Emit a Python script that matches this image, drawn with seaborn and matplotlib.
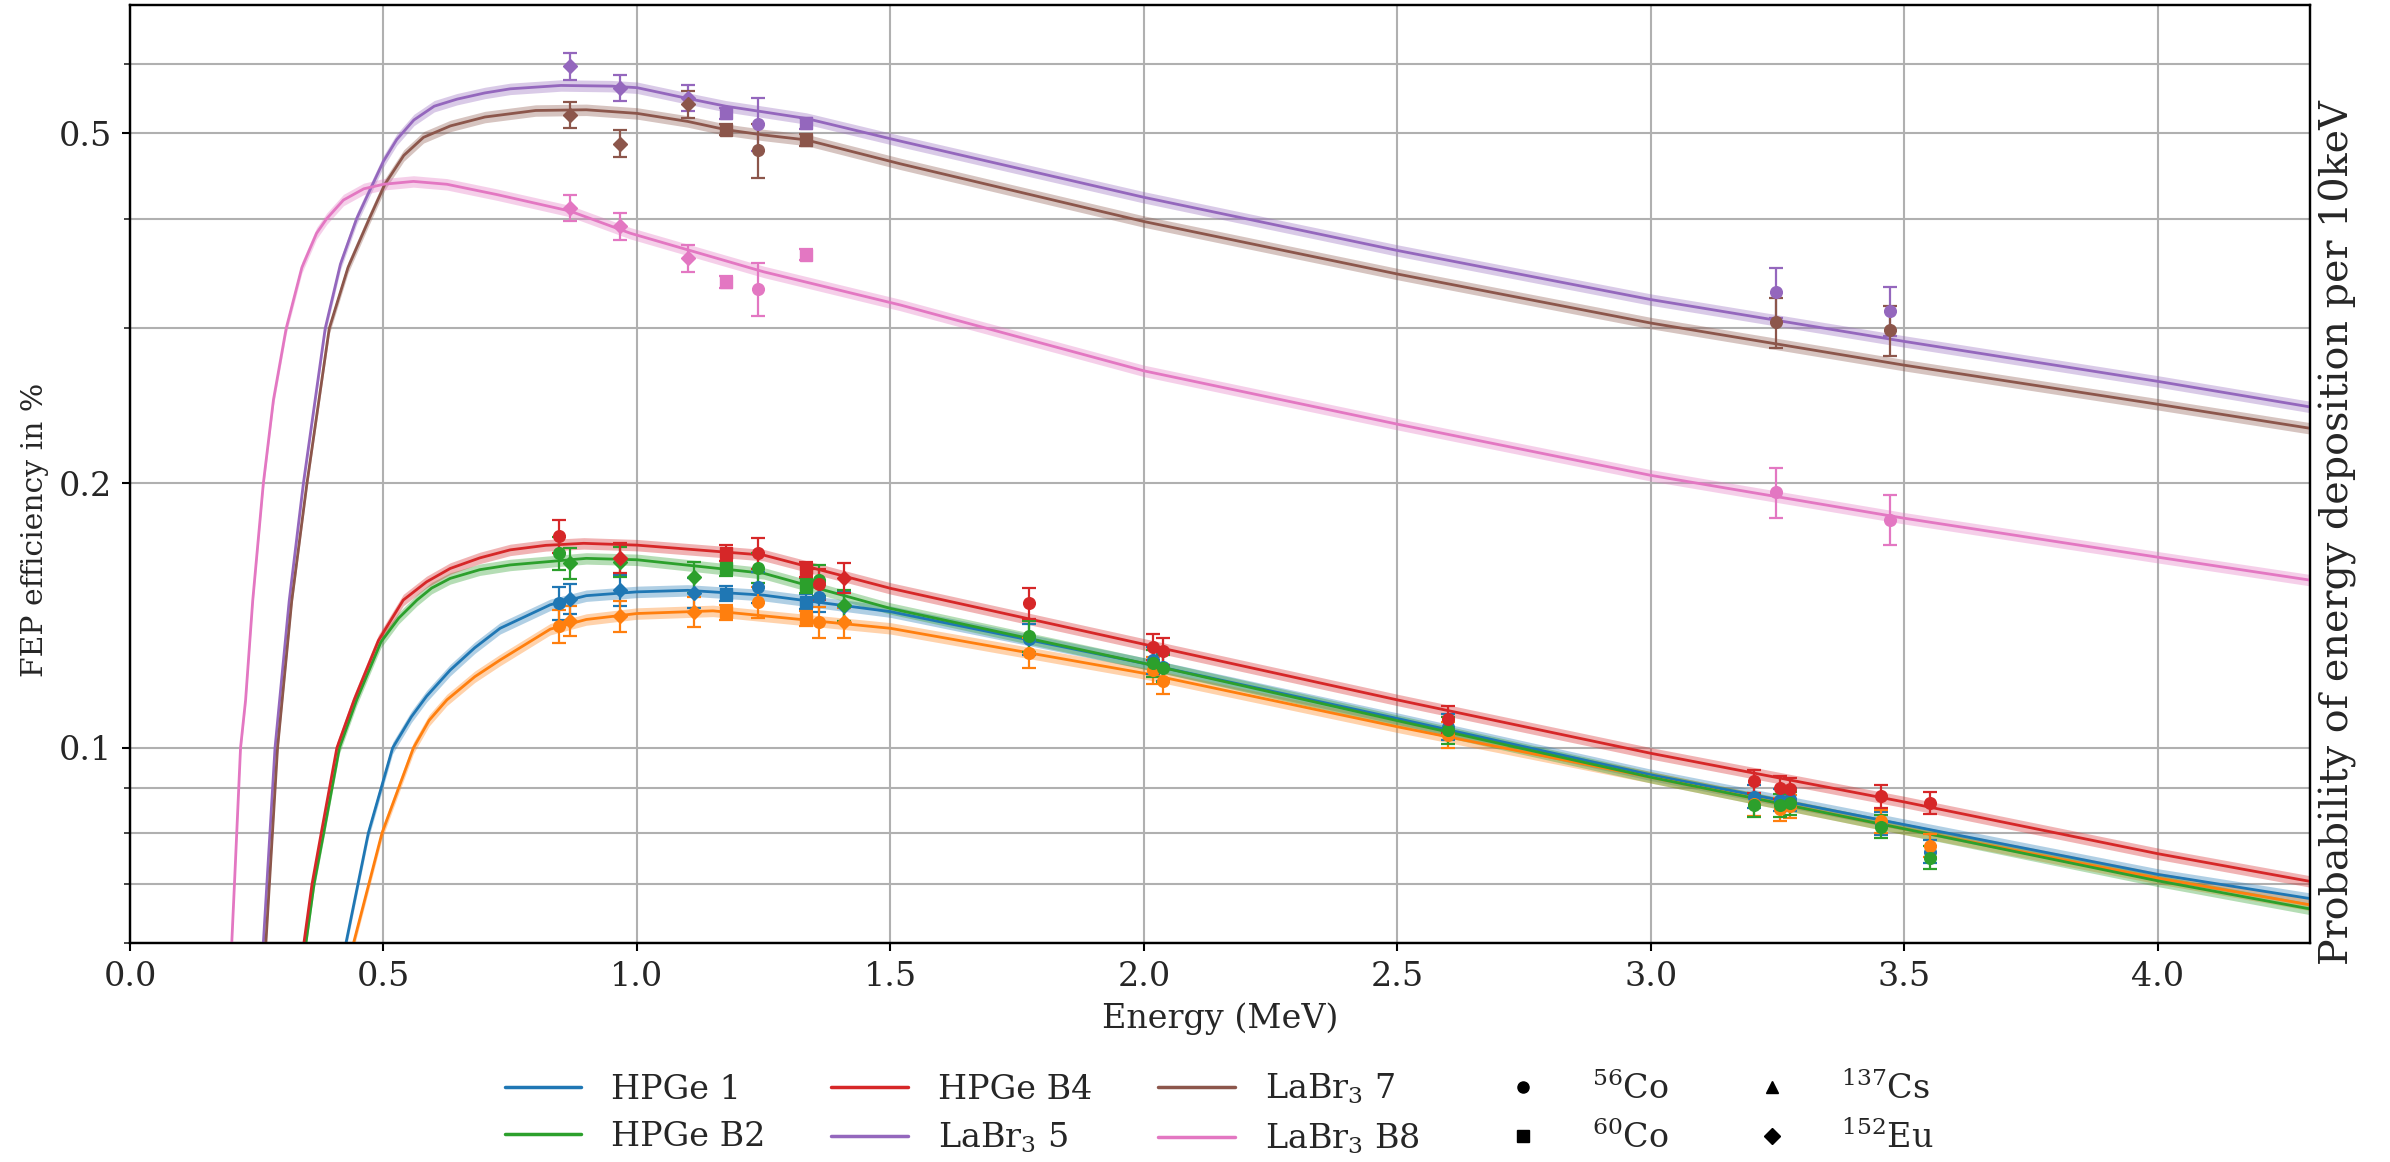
import numpy as np
import matplotlib
matplotlib.use("Agg")
import matplotlib.pyplot as plt
from matplotlib.lines import Line2D
from matplotlib.ticker import FixedLocator, NullFormatter
import seaborn as sns

# ---- fitted efficiency curves (energy in MeV, FEP efficiency in %) ----
hpge1_curve_E = [0.426, 0.470, 0.518, 0.555, 0.585, 0.6315, 0.68, 0.73, 0.829, 0.9, 1.0, 1.1, 1.25, 1.5, 2.0, 2.5, 3.0, 3.5, 4.0, 4.3]
hpge1_curve = [0.060, 0.080, 0.100, 0.1085, 0.1145, 0.1226, 0.130, 0.1368, 0.1455, 0.1490, 0.1505, 0.1511, 0.1492, 0.1429, 0.1248, 0.1080, 0.0932, 0.0818, 0.0718, 0.0674]

orange_curve_E = [0.441, 0.497, 0.559, 0.59, 0.625, 0.68, 0.73, 0.829, 0.9, 1.0, 1.15, 1.5, 2.0, 2.5, 3.0, 3.5, 4.0, 4.3]
orange_curve = [0.060, 0.080, 0.100, 0.1075, 0.1134, 0.1205, 0.1259, 0.1365, 0.1400, 0.1422, 0.1432, 0.1368, 0.1216, 0.1057, 0.0926, 0.0809, 0.0711, 0.0663]

hpgeB2_curve_E = [0.347, 0.363, 0.382, 0.413, 0.447, 0.495, 0.53, 0.566, 0.595, 0.6315, 0.69, 0.75, 0.9, 1.0, 1.25, 1.5, 2.0, 2.5, 3.0, 3.5, 4.0, 4.3]
hpgeB2_curve = [0.060, 0.070, 0.080, 0.100, 0.1134, 0.132, 0.1405, 0.1473, 0.1520, 0.1559, 0.1595, 0.1615, 0.1643, 0.1637, 0.158, 0.1441, 0.1248, 0.1074, 0.0926, 0.0809, 0.0706, 0.0656]

hpgeB4_curve_E = [0.343, 0.359, 0.378, 0.408, 0.442, 0.49, 0.539, 0.585, 0.6315, 0.69, 0.75, 0.82, 0.895, 1.0, 1.25, 1.5, 2.0, 2.5, 3.0, 3.5, 4.0, 4.3]
hpgeB4_curve = [0.060, 0.070, 0.0805, 0.100, 0.1134, 0.1325, 0.1473, 0.1545, 0.160, 0.1645, 0.168, 0.1700, 0.1709, 0.1701, 0.1657, 0.1519, 0.1312, 0.1134, 0.0986, 0.0868, 0.0758, 0.0705]

labr5_curve_E = [0.263, 0.286, 0.314, 0.342, 0.385, 0.415, 0.447, 0.474, 0.50, 0.526, 0.56, 0.60, 0.645, 0.70, 0.75, 0.85, 0.95, 1.0, 1.1, 1.175, 1.25, 1.334, 1.52, 2.0, 2.5, 3.0, 3.5, 4.0, 4.3]
labr5_curve = [0.060, 0.100, 0.147, 0.200, 0.300, 0.355, 0.400, 0.432, 0.465, 0.492, 0.518, 0.537, 0.547, 0.556, 0.562, 0.567, 0.566, 0.5637, 0.548, 0.537, 0.529, 0.520, 0.490, 0.423, 0.368, 0.3236, 0.2900, 0.2612, 0.2443]

labr7_curve_E = [0.268, 0.291, 0.319, 0.349, 0.393, 0.43, 0.472, 0.503, 0.54, 0.579, 0.632, 0.70, 0.80, 0.90, 1.0, 1.1, 1.175, 1.25, 1.334, 1.52, 2.0, 2.5, 3.0, 3.5, 4.0, 4.3]
labr7_curve = [0.060, 0.100, 0.147, 0.200, 0.300, 0.352, 0.400, 0.438, 0.472, 0.495, 0.510, 0.522, 0.531, 0.532, 0.527, 0.516, 0.505, 0.498, 0.4916, 0.4617, 0.397, 0.346, 0.3043, 0.2725, 0.2460, 0.2310]

labrB8_curve_E = [0.2007, 0.206, 0.218, 0.228, 0.242, 0.263, 0.283, 0.308, 0.339, 0.368, 0.388, 0.421, 0.461, 0.50, 0.559, 0.625, 0.724, 0.868, 0.987, 1.25, 1.52, 2.0, 2.5, 3.0, 3.5, 4.0, 4.3]
labrB8_curve = [0.060, 0.070, 0.100, 0.1134, 0.147, 0.200, 0.249, 0.300, 0.352, 0.385, 0.400, 0.420, 0.4325, 0.4377, 0.441, 0.4377, 0.426, 0.408, 0.385, 0.348, 0.319, 0.2685, 0.2335, 0.2042, 0.1825, 0.1648, 0.1552]

band_rel = 0.015  # half width of the uncertainty band

# ---- measured points ----
hpge_E = [0.847, 0.867, 0.966, 1.113, 1.175, 1.239, 1.334, 1.360, 1.409, 1.773,
          2.018, 2.037, 2.599, 3.204, 3.255, 3.275, 3.454, 3.551]
hpge_src = ["Co56", "Eu152", "Eu152", "Eu152", "Co60", "Co56", "Co60", "Co56", "Eu152", "Co56",
            "Co56", "Co56", "Co56", "Co56", "Co56", "Co56", "Co56", "Co56"]
hpge_relerr = [0.043, 0.04, 0.04, 0.04, 0.02, 0.04, 0.02, 0.04, 0.04, 0.04,
               0.035, 0.035, 0.035, 0.03, 0.03, 0.03, 0.03, 0.03]
hpge1_pts = [0.1462, 0.1478, 0.1511, 0.1502, 0.1498, 0.1524, 0.1467, 0.1486, 0.1450, 0.1330,
             0.1259, 0.1236, 0.1057, 0.0880, 0.0873, 0.0875, 0.0820, 0.0762]
orange_pts = [0.1377, 0.1395, 0.1413, 0.1429, 0.1426, 0.1464, 0.1405, 0.1391, 0.1389, 0.1283,
              0.1226, 0.1192, 0.1035, 0.0863, 0.0852, 0.0859, 0.0825, 0.0774]
hpgeB2_pts = [0.1665, 0.1622, 0.1628, 0.1565, 0.1600, 0.1604, 0.1532, 0.1552, 0.1454, 0.1340,
              0.1248, 0.1232, 0.1048, 0.0861, 0.0861, 0.0865, 0.0814, 0.0750]
hpgeB4_pts = [0.1743, np.nan, 0.1646, np.nan, 0.1667, 0.1665, 0.1596, 0.1535, 0.1561, 0.1460,
              0.1303, 0.1289, 0.1079, 0.0916, 0.0901, 0.0898, 0.0882, 0.0866]

labr_E = [0.867, 0.966, 1.101, 1.175, 1.239, 1.334, 3.247, 3.472]
labr_src = ["Eu152", "Eu152", "Eu152", "Co60", "Co56", "Co60", "Co56", "Co56"]
labr_relerr = [0.035, 0.035, 0.035, 0.015, 0.07, 0.015, 0.065, 0.065]
labr5_pts = [0.596, 0.5636, 0.549, 0.527, 0.513, 0.5135, 0.330, 0.3143]
labr7_pts = [0.525, 0.487, 0.540, 0.505, 0.479, 0.4917, 0.3048, 0.2985]
labrB8_pts = [0.4115, 0.392, 0.3607, 0.339, 0.333, 0.364, 0.1953, 0.1819]

markers = {"Co56": "o", "Co60": "s", "Cs137": "^", "Eu152": "D"}
source_labels = {"Co56": "$^{56}$Co", "Co60": "$^{60}$Co", "Cs137": "$^{137}$Cs", "Eu152": "$^{152}$Eu"}

pal = sns.color_palette("tab10")
detectors = [
    # label, color, curve E, curve, point E, points, sources, rel err
    ("HPGe 1", pal[0], hpge1_curve_E, hpge1_curve, hpge_E, hpge1_pts, hpge_src, hpge_relerr),
    (None, pal[1], orange_curve_E, orange_curve, hpge_E, orange_pts, hpge_src, hpge_relerr),
    ("HPGe B2", pal[2], hpgeB2_curve_E, hpgeB2_curve, hpge_E, hpgeB2_pts, hpge_src, hpge_relerr),
    ("HPGe B4", pal[3], hpgeB4_curve_E, hpgeB4_curve, hpge_E, hpgeB4_pts, hpge_src, hpge_relerr),
    ("LaBr$_3$ 5", pal[4], labr5_curve_E, labr5_curve, labr_E, labr5_pts, labr_src, labr_relerr),
    ("LaBr$_3$ 7", pal[5], labr7_curve_E, labr7_curve, labr_E, labr7_pts, labr_src, labr_relerr),
    ("LaBr$_3$ B8", pal[6], labrB8_curve_E, labrB8_curve, labr_E, labrB8_pts, labr_src, labr_relerr),
]

sns.set_style("ticks")
plt.rcParams["font.family"] = ["DejaVu Serif"]
plt.rcParams["mathtext.fontset"] = "dejavuserif"

fig = plt.figure(figsize=(23.9, 11.62), dpi=100)
ax = fig.add_axes([0.0544, 0.1885, 0.9121, 0.8072])

for label, color, cE, cv, pE, pv, psrc, perr in detectors:
    cE = np.asarray(cE)
    cv = np.asarray(cv)
    ax.fill_between(cE, cv * (1 - band_rel), cv * (1 + band_rel), color=color, alpha=0.35, lw=0, zorder=2)
    sns.lineplot(x=cE, y=cv, color=color, lw=2.0, ax=ax, legend=False, zorder=3)
    for src in markers:
        sel = [i for i, s in enumerate(psrc) if s == src and not np.isnan(pv[i])]
        if not sel:
            continue
        yv = np.array([pv[i] for i in sel])
        ax.errorbar([pE[i] for i in sel], yv, yerr=yv * np.array([perr[i] for i in sel]),
                    fmt=markers[src], color=color, ms=8.4 if src != "Eu152" else 7.6,
                    capsize=5, elinewidth=1.6, capthick=1.6, zorder=4)

ax.set_yscale("log")
ax.set_xlim(0, 4.3)
ax.set_ylim(0.06, 0.7)
ax.yaxis.set_major_locator(FixedLocator([0.1, 0.2, 0.5]))
ax.set_yticklabels(["0.1", "0.2", "0.5"])
ax.yaxis.set_minor_locator(FixedLocator([0.06, 0.07, 0.08, 0.09, 0.3, 0.4, 0.6]))
ax.yaxis.set_minor_formatter(NullFormatter())
ax.set_xticks(np.arange(0, 4.01, 0.5))
ax.set_xticklabels([f"{v:.1f}" for v in np.arange(0, 4.01, 0.5)])

ax.grid(True, which="major", color="#b0b0b0", lw=1.5)
ax.grid(True, which="minor", axis="y", color="#b0b0b0", lw=1.5)
ax.set_axisbelow(True)
ax.tick_params(axis="both", which="major", labelsize=24, length=6, width=1.5, pad=7, color="black")
ax.tick_params(axis="y", which="minor", length=4, width=1.2)
for sp in ax.spines.values():
    sp.set_visible(True)
    sp.set_linewidth(1.6)
    sp.set_color("black")

ax.set_xlabel("Energy (MeV)", fontsize=24, va="top")
ax.xaxis.set_label_coords(0.5, -0.063)
ax.set_ylabel("FEP efficiency in %", fontsize=21.5)
ax.yaxis.set_label_coords(-0.037, 0.44)

ax2 = ax.twinx()
ax2.set_yticks([])
ax2.set_ylabel("Probability of energy deposition per 10keV", fontsize=28.5)
ax2.yaxis.set_label_coords(1.004, 0.438)
for sp in ax2.spines.values():
    sp.set_linewidth(1.6)
    sp.set_color("black")

handles = [Line2D([], [], color=c, lw=2.5, label=l) for l, c, *_ in detectors if l is not None]
handles += [Line2D([], [], color="black", ls="none", marker=markers[s], ms=8, label=source_labels[s])
            for s in ["Co56", "Co60", "Cs137", "Eu152"]]
fig.legend(handles=handles, loc="upper center", bbox_to_anchor=(0.51, 0.1035), ncol=5, frameon=False,
           fontsize=24, handlelength=2.3, handletextpad=0.9, columnspacing=1.97, labelspacing=0.45)

fig.savefig("out.png", dpi=100)
